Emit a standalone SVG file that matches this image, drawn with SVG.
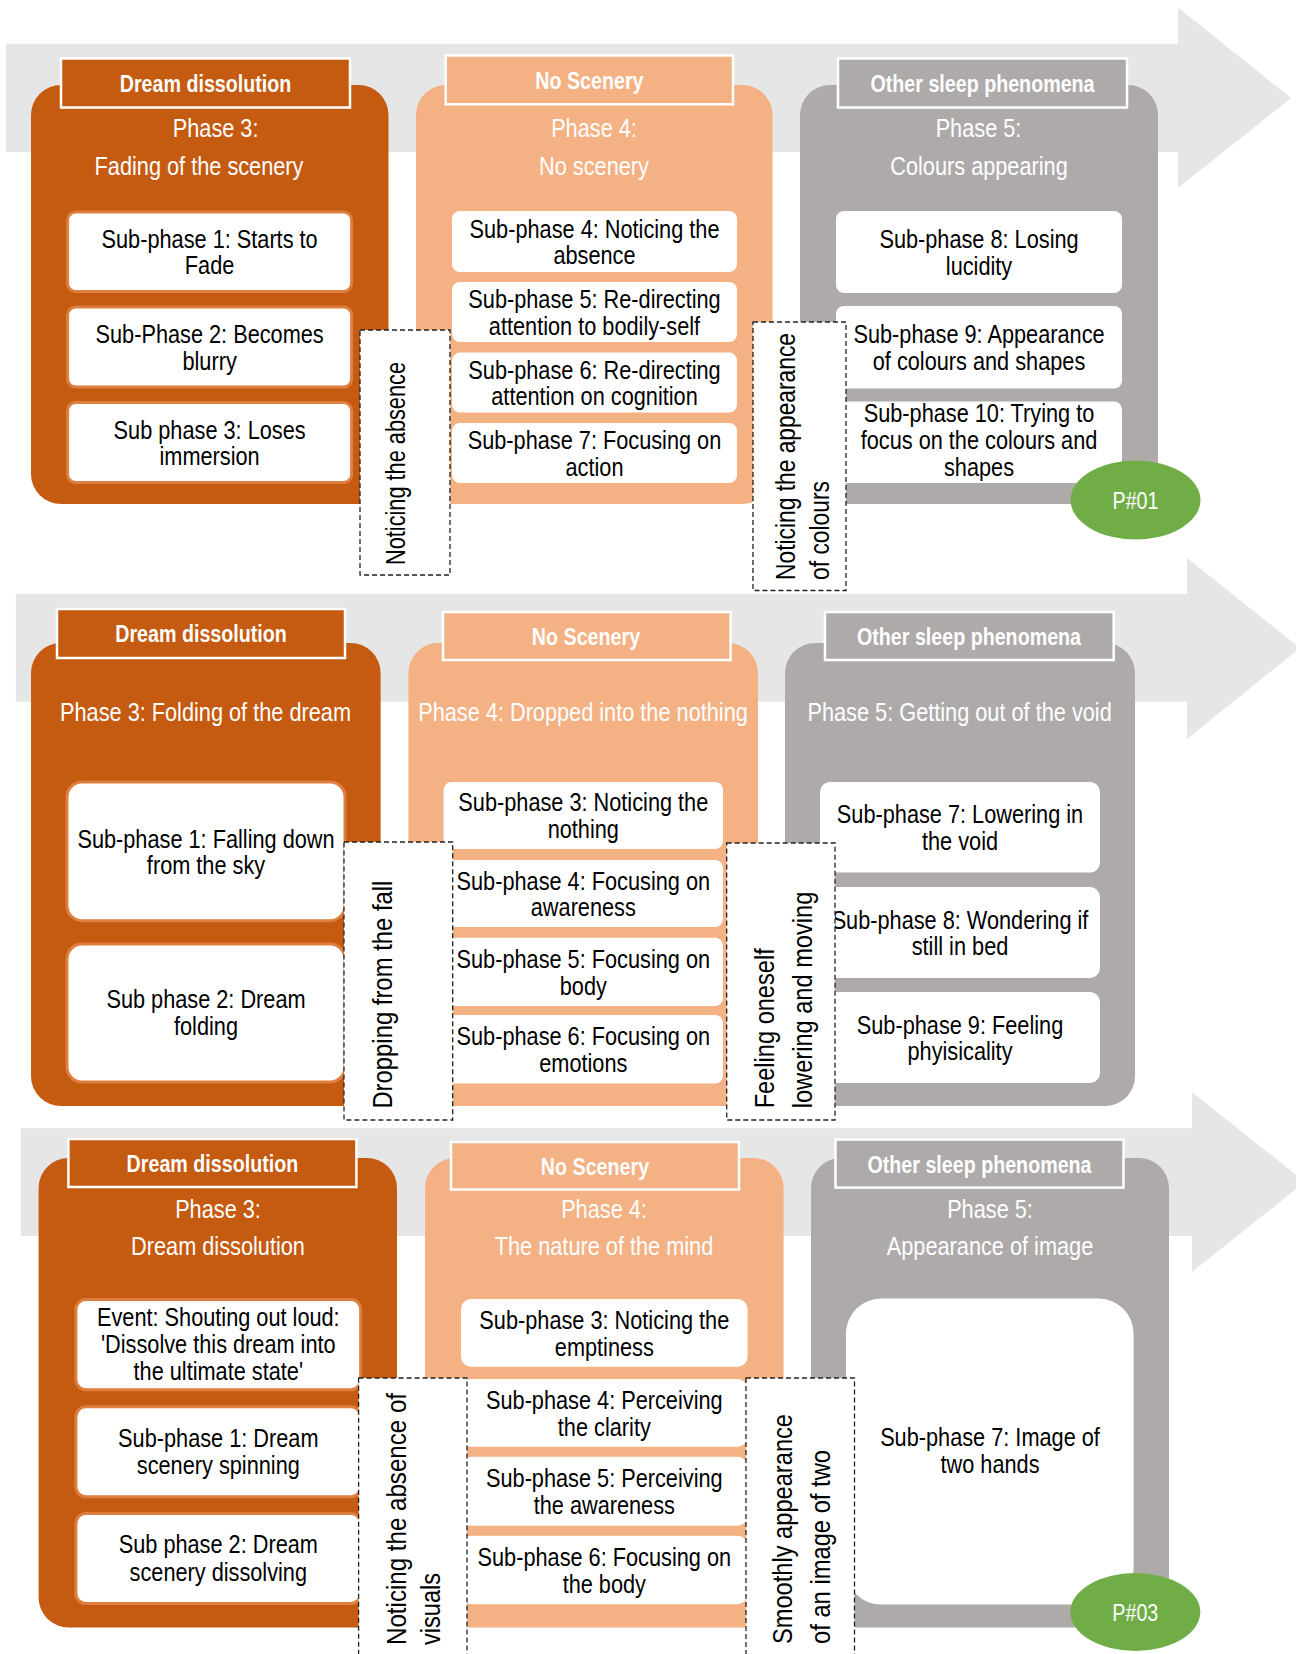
<svg xmlns="http://www.w3.org/2000/svg" width="1296" height="1654" viewBox="0 0 1296 1654">
<style>
.band{fill:#E7E6E6}
.dk{fill:#C55A11}
.lt{fill:#F4B183}
.gy{fill:#AEAAAA}
.hdr{stroke:#FFFFFF;stroke-width:2.5}
.sb{fill:#FFFFFF}
.sbd{fill:#FFFFFF;stroke:#DE7F41;stroke-width:3}
.dash{fill:#FFFFFF;stroke:#222222;stroke-width:1.3;stroke-dasharray:5 3}
.grn{fill:#70AD47}
text{font-family:"Liberation Sans",Arial,sans-serif;font-size:26.5px;text-anchor:middle}
.w{fill:#FFFFFF}
.k{fill:#000000}
.h{font-weight:bold;font-size:24px;fill:#FFFFFF}
.p{font-size:24px;fill:#FFFFFF}
.r{font-size:28px;text-anchor:start;fill:#000000}
</style>
<g id="bands">
<polygon class="band" points="6,43.7 1178,43.7 1178,7.4 1291,98 1178,188 1178,152 6,152"/>
<polygon class="band" points="15.8,593.7 1187,593.7 1187,558 1300,648 1187,739 1187,701.7 15.8,701.7"/>
<polygon class="band" points="20.7,1128.3 1192,1128.3 1192,1092 1305,1182 1192,1272 1192,1236 20.7,1236"/>
</g>

<!-- ROW 1 -->
<g id="r1-dream">
<rect class="dk" x="31" y="85" width="357.5" height="419" rx="30"/>
<rect class="dk hdr" x="61" y="58.5" width="289" height="49"/>
<text class="h" transform="matrix(.82 0 0 1 205.5 0)" y="92">Dream dissolution</text>
<text class="w" transform="matrix(.82 0 0 1 215.6 0)" y="137">Phase 3:</text>
<text class="w" transform="matrix(.82 0 0 1 199 0)" y="175">Fading of the scenery</text>
<rect class="sbd" x="67.6" y="212" width="284" height="79.5" rx="8"/>
<text class="k" transform="matrix(.82 0 0 1 209.6 0)" y="248">Sub-phase 1: Starts to</text>
<text class="k" transform="matrix(.82 0 0 1 209.6 0)" y="274.5">Fade</text>
<rect class="sbd" x="67.6" y="307" width="284" height="80" rx="8"/>
<text class="k" transform="matrix(.82 0 0 1 209.6 0)" y="343.3">Sub-Phase 2: Becomes</text>
<text class="k" transform="matrix(.82 0 0 1 209.6 0)" y="369.8">blurry</text>
<rect class="sbd" x="67.6" y="402.5" width="284" height="80" rx="8"/>
<text class="k" transform="matrix(.82 0 0 1 209.6 0)" y="438.7">Sub phase 3: Loses</text>
<text class="k" transform="matrix(.82 0 0 1 209.6 0)" y="465.2">immersion</text>
</g>
<g id="r1-noscenery">
<rect class="lt" x="416" y="85" width="356.5" height="419" rx="30"/>
<rect class="lt hdr" x="445.7" y="55.5" width="287.3" height="48.8"/>
<text class="h" transform="matrix(.82 0 0 1 589.4 0)" y="89">No Scenery</text>
<text class="w" transform="matrix(.82 0 0 1 594 0)" y="137">Phase 4:</text>
<text class="w" transform="matrix(.82 0 0 1 594 0)" y="175">No scenery</text>
<rect class="sb" x="452" y="211" width="285" height="61" rx="8"/>
<text class="k" transform="matrix(.82 0 0 1 594.5 0)" y="237.8">Sub-phase 4: Noticing the</text>
<text class="k" transform="matrix(.82 0 0 1 594.5 0)" y="264.3">absence</text>
<rect class="sb" x="452" y="282" width="285" height="60" rx="8"/>
<text class="k" transform="matrix(.82 0 0 1 594.5 0)" y="308.3">Sub-phase 5: Re-directing</text>
<text class="k" transform="matrix(.82 0 0 1 594.5 0)" y="334.8">attention to bodily-self</text>
<rect class="sb" x="452" y="352.6" width="285" height="60" rx="8"/>
<text class="k" transform="matrix(.82 0 0 1 594.5 0)" y="378.8">Sub-phase 6: Re-directing</text>
<text class="k" transform="matrix(.82 0 0 1 594.5 0)" y="405.3">attention on cognition</text>
<rect class="sb" x="452" y="423" width="285" height="60" rx="8"/>
<text class="k" transform="matrix(.82 0 0 1 594.5 0)" y="449.3">Sub-phase 7: Focusing on</text>
<text class="k" transform="matrix(.82 0 0 1 594.5 0)" y="475.8">action</text>
</g>
<g id="r1-other">
<rect class="gy" x="800" y="85" width="358" height="419" rx="30"/>
<rect class="gy hdr" x="838" y="58.5" width="289" height="49"/>
<text class="h" transform="matrix(.82 0 0 1 982.5 0)" y="92">Other sleep phenomena</text>
<text class="w" transform="matrix(.82 0 0 1 978.5 0)" y="137">Phase 5:</text>
<text class="w" transform="matrix(.82 0 0 1 979 0)" y="175">Colours appearing</text>
<rect class="sb" x="836" y="211" width="286" height="82" rx="8"/>
<text class="k" transform="matrix(.82 0 0 1 979 0)" y="248.3">Sub-phase 8: Losing</text>
<text class="k" transform="matrix(.82 0 0 1 979 0)" y="274.8">lucidity</text>
<rect class="sb" x="836" y="306" width="286" height="82.5" rx="8"/>
<text class="k" transform="matrix(.82 0 0 1 979 0)" y="343.5">Sub-phase 9: Appearance</text>
<text class="k" transform="matrix(.82 0 0 1 979 0)" y="370">of colours and shapes</text>
<rect class="sb" x="836" y="401.5" width="286" height="81.5" rx="8"/>
<text class="k" transform="matrix(.82 0 0 1 979 0)" y="422.5">Sub-phase 10: Trying to</text>
<text class="k" transform="matrix(.82 0 0 1 979 0)" y="449.5">focus on the colours and</text>
<text class="k" transform="matrix(.82 0 0 1 979 0)" y="476.5">shapes</text>
</g>
<g id="r1-p01">
<ellipse class="grn" cx="1135.5" cy="500" rx="65" ry="39.5"/>
<text class="p" transform="matrix(.82 0 0 1 1135.5 0)" y="509">P#01</text>
</g>
<g id="r1-trans1">
<rect class="dash" x="360" y="330" width="90" height="245"/>
<text class="r" transform="translate(405,565) rotate(-90)" textLength="203" lengthAdjust="spacingAndGlyphs">Noticing the absence</text>
</g>
<g id="r1-trans2">
<rect class="dash" x="753" y="322" width="93" height="268.5"/>
<text class="r" transform="translate(795,580) rotate(-90)" textLength="247" lengthAdjust="spacingAndGlyphs">Noticing the appearance</text>
<text class="r" transform="translate(829,580) rotate(-90)" textLength="99" lengthAdjust="spacingAndGlyphs">of colours</text>
</g>

<!-- ROW 2 -->
<g id="r2-dream">
<rect class="dk" x="31" y="643" width="349.6" height="463" rx="30"/>
<rect class="dk hdr" x="57" y="609" width="288" height="49"/>
<text class="h" transform="matrix(.82 0 0 1 201 0)" y="642.5">Dream dissolution</text>
<text class="w" transform="matrix(.82 0 0 1 205.5 0)" y="721">Phase 3: Folding of the dream</text>
<rect class="sbd" x="67" y="782" width="278" height="138.7" rx="15"/>
<text class="k" transform="matrix(.82 0 0 1 206 0)" y="847.6">Sub-phase 1: Falling down</text>
<text class="k" transform="matrix(.82 0 0 1 206 0)" y="874.1">from the sky</text>
<rect class="sbd" x="67" y="944" width="278" height="138" rx="15"/>
<text class="k" transform="matrix(.82 0 0 1 206 0)" y="1008.5">Sub phase 2: Dream</text>
<text class="k" transform="matrix(.82 0 0 1 206 0)" y="1035.3">folding</text>
</g>
<g id="r2-noscenery">
<rect class="lt" x="408.4" y="643" width="349.6" height="463" rx="30"/>
<rect class="lt hdr" x="443" y="612" width="287.6" height="48"/>
<text class="h" transform="matrix(.82 0 0 1 586 0)" y="645">No Scenery</text>
<text class="w" transform="matrix(.82 0 0 1 583 0)" y="721">Phase 4: Dropped into the nothing</text>
<rect class="sb" x="443.6" y="782" width="279.4" height="67" rx="8"/>
<text class="k" transform="matrix(.82 0 0 1 583.3 0)" y="811.5">Sub-phase 3: Noticing the</text>
<text class="k" transform="matrix(.82 0 0 1 583.3 0)" y="838">nothing</text>
<rect class="sb" x="443.6" y="860" width="279.4" height="67" rx="8"/>
<text class="k" transform="matrix(.82 0 0 1 583.3 0)" y="889.7">Sub-phase 4: Focusing on</text>
<text class="k" transform="matrix(.82 0 0 1 583.3 0)" y="916.2">awareness</text>
<rect class="sb" x="443.6" y="937.7" width="279.4" height="68.3" rx="8"/>
<text class="k" transform="matrix(.82 0 0 1 583.3 0)" y="968.1">Sub-phase 5: Focusing on</text>
<text class="k" transform="matrix(.82 0 0 1 583.3 0)" y="994.6">body</text>
<rect class="sb" x="443.6" y="1015" width="279.4" height="68.5" rx="8"/>
<text class="k" transform="matrix(.82 0 0 1 583.3 0)" y="1045.5">Sub-phase 6: Focusing on</text>
<text class="k" transform="matrix(.82 0 0 1 583.3 0)" y="1072">emotions</text>
</g>
<g id="r2-other">
<rect class="gy" x="785" y="643" width="350" height="463" rx="30"/>
<rect class="gy hdr" x="825" y="612" width="288.7" height="48"/>
<text class="h" transform="matrix(.82 0 0 1 969 0)" y="645">Other sleep phenomena</text>
<text class="w" transform="matrix(.82 0 0 1 959.6 0)" y="721">Phase 5: Getting out of the void</text>
<rect class="sb" x="820" y="782" width="280" height="90.6" rx="10"/>
<text class="k" transform="matrix(.82 0 0 1 960 0)" y="823.5">Sub-phase 7: Lowering in</text>
<text class="k" transform="matrix(.82 0 0 1 960 0)" y="850">the void</text>
<rect class="sb" x="820" y="887" width="280" height="91" rx="10"/>
<text class="k" transform="matrix(.82 0 0 1 960 0)" y="928.7">Sub-phase 8: Wondering if</text>
<text class="k" transform="matrix(.82 0 0 1 960 0)" y="955.2">still in bed</text>
<rect class="sb" x="820" y="992" width="280" height="91" rx="10"/>
<text class="k" transform="matrix(.82 0 0 1 960 0)" y="1033.7">Sub-phase 9: Feeling</text>
<text class="k" transform="matrix(.82 0 0 1 960 0)" y="1060.2">phyisicality</text>
</g>
<g id="r2-trans1">
<rect class="dash" x="344" y="842" width="108.7" height="278"/>
<text class="r" transform="translate(392,1108.6) rotate(-90)" textLength="228" lengthAdjust="spacingAndGlyphs">Dropping from the fall</text>
</g>
<g id="r2-trans2">
<rect class="dash" x="726.7" y="843" width="108.3" height="277"/>
<text class="r" transform="translate(774,1108.3) rotate(-90)" textLength="160" lengthAdjust="spacingAndGlyphs">Feeling oneself</text>
<text class="r" transform="translate(811.7,1108.3) rotate(-90)" textLength="216.6" lengthAdjust="spacingAndGlyphs">lowering and moving</text>
</g>

<!-- ROW 3 -->
<g id="r3-dream">
<rect class="dk" x="38.6" y="1158" width="358.4" height="469.6" rx="30"/>
<rect class="dk hdr" x="68.4" y="1139" width="288" height="48"/>
<text class="h" transform="matrix(.82 0 0 1 212.4 0)" y="1172">Dream dissolution</text>
<text class="w" transform="matrix(.82 0 0 1 218 0)" y="1217.7">Phase 3:</text>
<text class="w" transform="matrix(.82 0 0 1 218 0)" y="1255.5">Dream dissolution</text>
<rect class="sbd" x="75.9" y="1299.6" width="284.8" height="90.2" rx="10"/>
<text class="k" transform="matrix(.82 0 0 1 218.3 0)" y="1326.5">Event: Shouting out loud:</text>
<text class="k" transform="matrix(.82 0 0 1 218.3 0)" y="1353.5">'Dissolve this dream into</text>
<text class="k" transform="matrix(.82 0 0 1 218.3 0)" y="1380.5">the ultimate state'</text>
<rect class="sbd" x="75.9" y="1406.7" width="284.8" height="90.1" rx="10"/>
<text class="k" transform="matrix(.82 0 0 1 218.3 0)" y="1447">Sub-phase 1: Dream</text>
<text class="k" transform="matrix(.82 0 0 1 218.3 0)" y="1474">scenery spinning</text>
<rect class="sbd" x="75.9" y="1513.4" width="284.8" height="90.1" rx="10"/>
<text class="k" transform="matrix(.82 0 0 1 218.3 0)" y="1553.5">Sub phase 2: Dream</text>
<text class="k" transform="matrix(.82 0 0 1 218.3 0)" y="1580.8">scenery dissolving</text>
</g>
<g id="r3-noscenery">
<rect class="lt" x="425" y="1158" width="358.6" height="469.6" rx="30"/>
<rect class="lt hdr" x="451" y="1142" width="288" height="47.5"/>
<text class="h" transform="matrix(.82 0 0 1 595 0)" y="1175">No Scenery</text>
<text class="w" transform="matrix(.82 0 0 1 604 0)" y="1217.7">Phase 4:</text>
<text class="w" transform="matrix(.82 0 0 1 604 0)" y="1255.5">The nature of the mind</text>
<rect class="sb" x="461" y="1299" width="286.6" height="67.8" rx="10"/>
<text class="k" transform="matrix(.82 0 0 1 604.3 0)" y="1329.2">Sub-phase 3: Noticing the</text>
<text class="k" transform="matrix(.82 0 0 1 604.3 0)" y="1355.7">emptiness</text>
<rect class="sb" x="461" y="1379" width="286.6" height="67.7" rx="10"/>
<text class="k" transform="matrix(.82 0 0 1 604.3 0)" y="1409.1">Sub-phase 4: Perceiving</text>
<text class="k" transform="matrix(.82 0 0 1 604.3 0)" y="1435.6">the clarity</text>
<rect class="sb" x="461" y="1456.7" width="286.6" height="69" rx="10"/>
<text class="k" transform="matrix(.82 0 0 1 604.3 0)" y="1487.5">Sub-phase 5: Perceiving</text>
<text class="k" transform="matrix(.82 0 0 1 604.3 0)" y="1514">the awareness</text>
<rect class="sb" x="461" y="1535.7" width="286.6" height="68.6" rx="10"/>
<text class="k" transform="matrix(.82 0 0 1 604.3 0)" y="1566.3">Sub-phase 6: Focusing on</text>
<text class="k" transform="matrix(.82 0 0 1 604.3 0)" y="1592.8">the body</text>
</g>
<g id="r3-other">
<rect class="gy" x="811" y="1158" width="358" height="469.6" rx="30"/>
<rect class="gy hdr" x="835.5" y="1139.6" width="288" height="48"/>
<text class="h" transform="matrix(.82 0 0 1 979.5 0)" y="1173">Other sleep phenomena</text>
<text class="w" transform="matrix(.82 0 0 1 990 0)" y="1217.7">Phase 5:</text>
<text class="w" transform="matrix(.82 0 0 1 990 0)" y="1255.5">Appearance of image</text>
<rect class="sb" x="846" y="1298.6" width="287.6" height="306" rx="35"/>
<text class="k" transform="matrix(.82 0 0 1 990 0)" y="1445.6">Sub-phase 7: Image of</text>
<text class="k" transform="matrix(.82 0 0 1 990 0)" y="1472.8">two hands</text>
</g>
<g id="r3-p03">
<ellipse class="grn" cx="1135.3" cy="1612" rx="65" ry="39"/>
<text class="p" transform="matrix(.82 0 0 1 1135.3 0)" y="1621">P#03</text>
</g>
<g id="r3-trans1">
<rect class="dash" x="358.6" y="1378" width="108.4" height="290"/>
<text class="r" transform="translate(405.7,1645) rotate(-90)" textLength="252" lengthAdjust="spacingAndGlyphs">Noticing the absence of</text>
<text class="r" transform="translate(440,1645) rotate(-90)" textLength="72" lengthAdjust="spacingAndGlyphs">visuals</text>
</g>
<g id="r3-trans2">
<rect class="dash" x="746" y="1378" width="108.5" height="290"/>
<text class="r" transform="translate(792,1644) rotate(-90)" textLength="230" lengthAdjust="spacingAndGlyphs">Smoothly appearance</text>
<text class="r" transform="translate(829.5,1644) rotate(-90)" textLength="194" lengthAdjust="spacingAndGlyphs">of an image of two</text>
</g>
</svg>
